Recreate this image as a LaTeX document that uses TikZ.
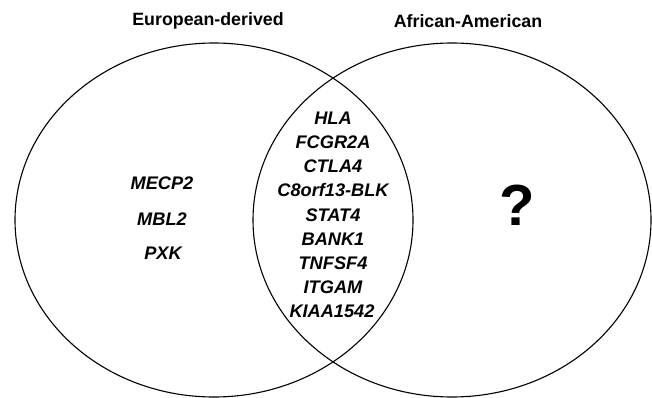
\documentclass[tikz,border=0pt]{standalone}
\usepackage{fontspec}
\setmainfont{Liberation Sans}
\begin{document}
\begin{tikzpicture}[x=1pt,y=-1pt,
  setline/.style={draw=black,line width=1.1pt},
  title/.style={font=\fontsize{17.8}{17.8}\selectfont\bfseries,inner sep=0pt},
  gene/.style={font=\fontsize{18.2}{18.2}\selectfont\bfseries\itshape,inner sep=0pt}]
\useasboundingbox (0,0) rectangle (652,398);
\draw[setline] (214,220) ellipse [x radius=199,y radius=177];
\draw[setline] (452,220) ellipse [x radius=199,y radius=177];
\node[title] (eu) at (208,21) {European-derived};
\node[title] (aa) at (468,21) {African-American};
\node[gene] (g1) at (162,183) {MECP2};
\node[gene] (g2) at (162,219) {MBL2};
\node[gene] (g3) at (163,253) {PXK};
\node[gene] (c1) at (333,118) {HLA};
\node[gene] (c2) at (333,142) {FCGR2A};
\node[gene] (c3) at (333,166) {CTLA4};
\node[gene] (c4) at (333,190) {C8orf13-BLK};
\node[gene] (c5) at (333,215) {STAT4};
\node[gene] (c6) at (333,239) {BANK1};
\node[gene] (c7) at (333,263) {TNFSF4};
\node[gene] (c8) at (333,287) {ITGAM};
\node[gene] (c9) at (332,311) {KIAA1542};
\node[font=\fontsize{58}{58}\selectfont\bfseries,inner sep=0pt] (q) at (517,205) {?};
\end{tikzpicture}
\end{document}
